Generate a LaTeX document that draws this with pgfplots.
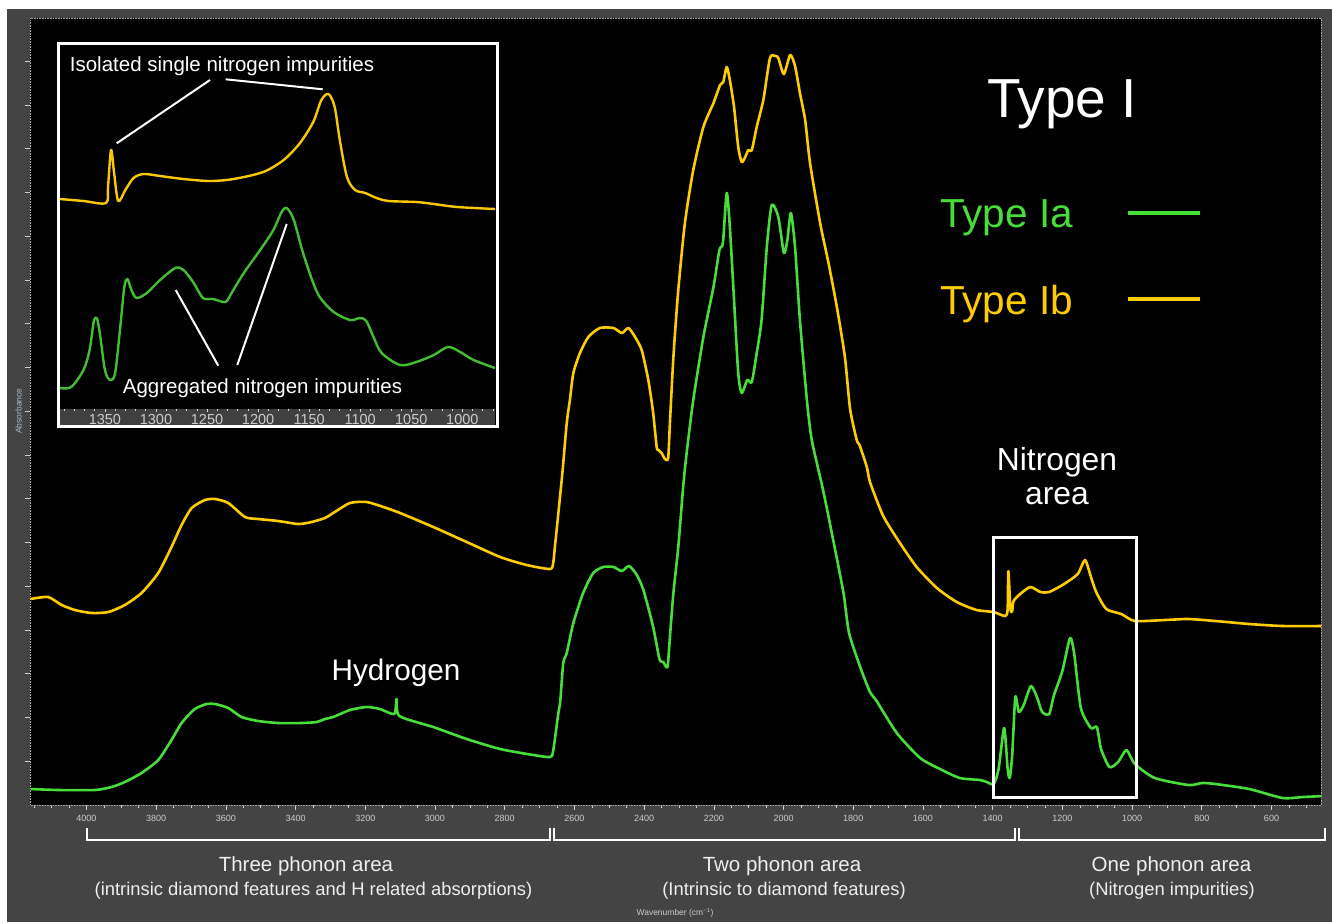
\documentclass[border=0pt]{standalone}
\usepackage{fontspec}
\setmainfont{Liberation Sans}
\usepackage{pgfplots}
\pgfplotsset{compat=1.18}
\usepackage{pgfplotstable}
\definecolor{bggray}{RGB}{68,68,68}
\definecolor{bandgray}{RGB}{64,64,64}
\definecolor{tickgray}{RGB}{205,205,205}
\definecolor{iagreen}{RGB}{72,222,58}
\definecolor{ibyellow}{RGB}{255,204,0}
\definecolor{insgreen}{RGB}{66,190,48}
\definecolor{insyellow}{RGB}{250,200,0}
\definecolor{abscol}{RGB}{170,185,205}
\definecolor{txtwhite}{RGB}{238,238,238}

\pgfplotstableread{
nu h
4160 206
4110 208
4071 200
4033 195
3985 192
3937 193
3890 200
3842 212
3794 232
3756 258
3727 280
3698 297
3660 305
3631 306
3593 302
3545 288
3507 286
3450 284
3392 281
3354 283
3316 287
3292 292
3244 302
3196 303
3148 298
3100 292
3005 278
2909 263
2813 248
2737 240
2670 236
2661 242
2656 258
2646 292
2634 334
2622 382
2613 405
2603 432
2584 452
2560 468
2527 477
2488 477
2464 472
2445 477
2426 468
2407 455
2388 425
2374 392
2364 358
2359 355
2350 352
2340 346
2331 347
2326 382
2316 448
2302 515
2283 582
2259 635
2230 678
2201 702
2182 720
2173 723
2163 738
2154 725
2142 698
2130 658
2120 643
2110 648
2101 655
2091 655
2077 678
2058 705
2039 747
2024 749
2015 747
1999 731
1981 750
1967 739
1953 712
1938 685
1924 642
1895 582
1871 542
1847 498
1824 448
1809 396
1790 365
1782 360
1761 338
1752 323
1714 289
1666 262
1618 238
1560 217
1503 203
1446 195
1398 193
1364 189
1357 196
1355 234
1349 196
1344 194
1340 204
1321 211
1292 218
1263 213
1238 213
1195 221
1156 231
1135 245
1118 228
1103 213
1074 196
1031 191
992 184
906 185
838 186
761 184
664 181
568 179
452 179
}\yellowmain

\pgfplotstableread{
nu h
4160 16
4081 15
3976 15
3928 18
3890 23
3842 32
3794 45
3756 65
3727 82
3689 96
3655 101
3631 101
3593 97
3555 88
3507 84
3450 82
3383 82
3339 83
3316 86
3292 88
3244 95
3196 98
3158 96
3117 91
3110 106
3102 89
3005 78
2909 66
2813 56
2718 50
2670 48
2661 54
2646 92
2641 102
2632 142
2622 152
2603 182
2575 212
2546 232
2517 238
2488 238
2464 234
2443 239
2421 230
2402 215
2374 178
2356 146
2345 143
2333 138
2326 168
2316 212
2302 258
2288 318
2278 352
2259 405
2230 468
2201 518
2184 555
2174 562
2163 612
2154 578
2142 505
2130 432
2120 412
2104 425
2091 423
2077 452
2063 485
2048 558
2034 600
2015 588
1999 552
1989 565
1979 592
1967 558
1953 485
1933 405
1919 365
1886 314
1857 264
1828 212
1812 172
1780 138
1752 113
1733 104
1675 72
1608 47
1551 36
1494 27
1436 25
1417 23
1397 21
1383 36
1367 77
1357 36
1351 27
1344 50
1335 108
1325 93
1311 100
1290 119
1272 107
1258 93
1238 91
1224 110
1200 134
1178 167
1166 151
1147 97
1118 77
1101 78
1089 56
1065 38
1040 43
1016 55
992 41
935 27
838 20
799 22
761 21
664 16
568 7
510 8
452 9
}\greenmain

\pgfplotstableread{
nu h
1394 210
1371 208
1349 206
1347 222
1344 259
1341 236
1337 208
1330 219
1322 231
1312 235
1296 233
1273 230
1247 228
1224 230
1195 237
1175 249
1159 266
1146 287
1138 309
1131 315
1125 302
1120 269
1113 232
1105 219
1095 216
1084 211
1072 208
1045 207
1028 205
1005 202
968 200
}\yellowinset

\pgfplotstableread{
nu h
1394 21
1383 22
1371 39
1365 59
1361 87
1358 91
1355 76
1350 39
1345 29
1340 36
1335 82
1331 122
1328 130
1324 119
1319 111
1309 116
1296 129
1281 141
1273 139
1263 126
1254 111
1244 110
1232 107
1226 116
1214 136
1198 159
1185 179
1177 197
1172 201
1165 189
1156 156
1146 126
1139 111
1126 97
1110 89
1100 91
1094 88
1087 72
1079 56
1061 44
1045 47
1028 54
1014 62
1002 57
989 49
968 41
}\greeninset

\begin{document}
\begin{tikzpicture}
\path[use as bounding box] (0pt,0pt) rectangle (1332pt,-922pt);
\fill[white] (0pt,0pt) rectangle (1332pt,-922pt);
\fill[bggray] (7pt,-9pt) rectangle (1332pt,-922pt);
\fill[black] (30pt,-18pt) rectangle (1321pt,-805pt);

\begin{axis}[
  at={(30pt,-805pt)}, anchor=south west,
  scale only axis, width=1291pt, height=787pt,
  x dir=reverse, xmin=458, xmax=4162, ymin=0, ymax=787,
  xtick={600,800,...,4000},
  minor xtick={500,550,...,4150},
  ytick={43.75,87.5,131.25,175,218.75,262.5,306.25,350,393.75,437.5,481.25,525,568.75,612.5,656.25,700,743.75},
  yticklabels={},
  xtick pos=lower, ytick pos=left,
  tick align=outside,
  major tick length=5pt, minor tick length=2.5pt,
  tick style={draw=tickgray, line width=0.6pt},
  axis line style={draw=gray!70, densely dotted, line width=0.6pt},
  xticklabel style={font=\fontsize{9}{9}\selectfont, text=tickgray, yshift=-2pt},
  /pgf/number format/1000 sep={},
  /pgf/number format/assume math mode=true,
  clip=true,
]
\addplot[ibyellow, line width=2.6pt, line join=round, smooth, tension=0.4] table[x=nu,y=h]{\yellowmain};
\addplot[iagreen, line width=2.6pt, line join=round, smooth, tension=0.4] table[x=nu,y=h]{\greenmain};
\end{axis}

% inset
\fill[black] (58pt,-43pt) rectangle (497pt,-427pt);
\fill[bandgray] (60pt,-409pt) rectangle (495pt,-425pt);
\begin{axis}[
  at={(60pt,-409pt)}, anchor=south west,
  scale only axis, width=435pt, height=364pt,
  x dir=reverse, xmin=968, xmax=1394, ymin=0, ymax=364,
  axis x line*=bottom, axis y line=none,
  axis line style={draw=none},
  xtick={1000,1050,...,1350},
  minor xtick={970,980,...,1390},
  tick align=outside,
  major tick length=3pt, minor tick length=1.5pt,
  tick style={draw=tickgray!80, line width=0.6pt},
  xticklabel style={font=\fontsize{14.5}{14.5}\selectfont, text=tickgray, yshift=1pt},
  /pgf/number format/1000 sep={},
  /pgf/number format/assume math mode=true,
  clip=true,
]
\addplot[insyellow, line width=2.4pt, line join=round, smooth, tension=0.5] table[x=nu,y=h]{\yellowinset};
\addplot[insgreen, line width=2.4pt, line join=round, smooth, tension=0.5] table[x=nu,y=h]{\greeninset};
\end{axis}
\draw[white, line width=3.5pt] (58.5pt,-43.3pt) rectangle (497.5pt,-426.7pt);

\begin{scope}[x=1pt,y=-1pt]
% inset annotations
\draw[white, line width=2pt] (116.7,143.3) -- (210,80);
\draw[white, line width=2pt] (225.7,79.3) -- (322.7,89.3);
\draw[white, line width=2pt] (175.7,290) -- (218.3,365.7);
\draw[white, line width=2pt] (286.7,224) -- (237.3,365);
\node[anchor=base, text=white, font=\fontsize{20.5}{20.5}\selectfont, inner sep=0pt] at (222,71) {Isolated single nitrogen impurities};
\node[anchor=base, text=white, font=\fontsize{20.5}{20.5}\selectfont, inner sep=0pt] at (262.5,393.5) {Aggregated nitrogen impurities};

% main annotations
\node[anchor=base, text=white, font=\fontsize{55}{55}\selectfont, inner sep=0pt] at (1062,117) {Type I};
\node[anchor=base west, text=iagreen, font=\fontsize{40.5}{40.5}\selectfont, inner sep=0pt] at (940,227) {Type Ia};
\node[anchor=base west, text=ibyellow, font=\fontsize{40.5}{40.5}\selectfont, inner sep=0pt] at (940,314) {Type Ib};
\draw[iagreen, line width=4pt] (1128,213) -- (1200,213);
\draw[ibyellow, line width=4pt] (1128,299) -- (1200,299);
\node[anchor=base, text=white, font=\fontsize{31.8}{31.8}\selectfont, inner sep=0pt] at (1057,470) {Nitrogen};
\node[anchor=base, text=white, font=\fontsize{31.8}{31.8}\selectfont, inner sep=0pt] at (1057,504) {area};
\node[anchor=base, text=white, font=\fontsize{29.7}{29.7}\selectfont, inner sep=0pt] at (396,680) {Hydrogen};
\draw[white, line width=3pt] (993.5,537) rectangle (1136.5,797.5);

% axis labels
\node[rotate=90, text=abscol, font=\fontsize{8.5}{8.5}\selectfont, inner sep=0pt] at (18.5,411) {Absorbance};
\node[text=tickgray, font=\fontsize{8.5}{8.5}\selectfont, inner sep=0pt] at (675,912.5) {Wavenumber (cm\textsuperscript{−1})};

% brackets
\draw[white, line width=2pt] (86.5,828) -- (86.5,840) -- (550,840) -- (550,828);
\draw[white, line width=2pt] (553.5,828) -- (553.5,840) -- (1015,840) -- (1015,828);
\draw[white, line width=2pt] (1018.5,828) -- (1018.5,840) -- (1325,840) -- (1325,828);

\node[anchor=base, text=txtwhite, font=\fontsize{20.5}{20.5}\selectfont, inner sep=0pt] at (306,871) {Three phonon area};
\node[anchor=base, text=txtwhite, font=\fontsize{18.4}{18.4}\selectfont, inner sep=0pt] at (313.5,895) {(intrinsic diamond features and H related absorptions)};
\node[anchor=base, text=txtwhite, font=\fontsize{20.5}{20.5}\selectfont, inner sep=0pt] at (782,871) {Two phonon area};
\node[anchor=base, text=txtwhite, font=\fontsize{18.4}{18.4}\selectfont, inner sep=0pt] at (784,895) {(Intrinsic to diamond features)};
\node[anchor=base, text=txtwhite, font=\fontsize{20.5}{20.5}\selectfont, inner sep=0pt] at (1171.5,871) {One phonon area};
\node[anchor=base, text=txtwhite, font=\fontsize{18.4}{18.4}\selectfont, inner sep=0pt] at (1172,895) {(Nitrogen impurities)};
\end{scope}
\end{tikzpicture}
\end{document}
